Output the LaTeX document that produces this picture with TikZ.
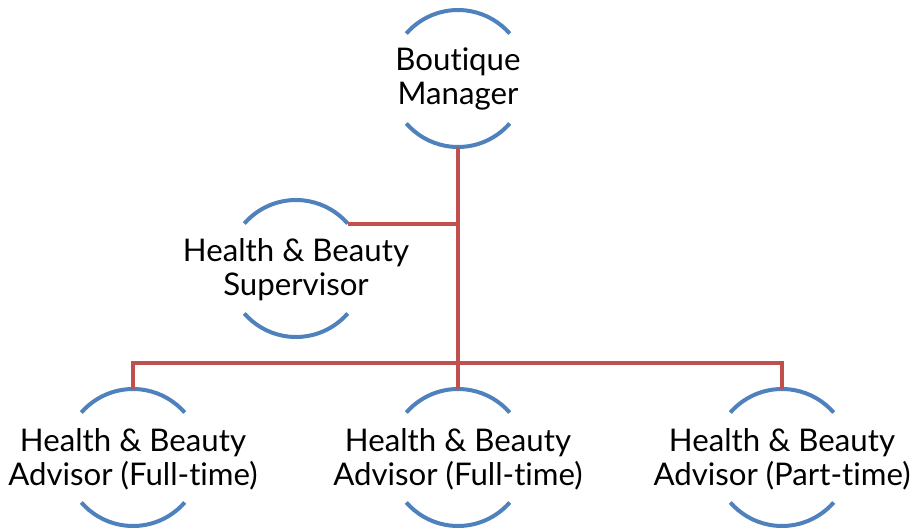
\documentclass[tikz,border=0pt]{standalone}
\usepackage{fontspec}
\setmainfont{Lato}[Ligatures={NoCommon,NoRare}]
\usetikzlibrary{calc}
\definecolor{ringblue}{HTML}{4F81BD}
\definecolor{linkred}{HTML}{C0504D}
\newlength\hbw
\newlength\ptw
\AtBeginDocument{%
\settowidth\hbw{\fontsize{10pt}{12pt}\selectfont Health \& Beauty}%
\settowidth\ptw{\fontsize{10pt}{12pt}\selectfont Advisor (Part-time)}%
\pgfmathsetmacro\lblsize{10*483/(\hbw+\ptw)}%
\xdef\lblsize{\lblsize}}
\newcommand\lblfont{\fontsize{\lblsize pt}{33.5pt}\selectfont}
\begin{document}
\begin{tikzpicture}[x=1pt,y=-1pt,
  ring/.style={ringblue,line width=4pt},
  link/.style={linkred,line width=4pt,line join=miter},
  lbl/.style={align=center,inner sep=0pt,font=\lblfont,anchor=base}]
\def\R{68.5}
\useasboundingbox (0,0) rectangle (914,530);
% circle centres
\coordinate (bm) at (458,78.5);
\coordinate (sup) at (296,268.5);
\coordinate (a1) at (133,457.5);
\coordinate (a2) at (458,457.5);
\coordinate (a3) at (782,457.5);
% labels (anchored at last baseline)
\node[lbl] (bm-l) at (458,104) {Boutique\\Manager};
\node[lbl] (sup-l) at (296,295) {Health \& Beauty\\Supervisor};
\node[lbl] (a1-l) at (133,485) {Health \& Beauty\\Advisor (Full-time)};
\node[lbl] (a2-l) at (458,485) {Health \& Beauty\\Advisor (Full-time)};
\node[lbl] (a3-l) at (782,485) {Health \& Beauty\\Advisor (Part-time)};
% rings
\foreach \n in {bm,sup,a1,a2,a3}{
  \draw[ring] ($(\n)+(221:\R)$) arc[start angle=221,end angle=319,radius=\R];
  \draw[ring] ($(\n)+(41:\R)$) arc[start angle=41,end angle=139,radius=\R];
  \coordinate (\n-t) at ($(\n)+(0,-\R)$);
  \coordinate (\n-b) at ($(\n)+(0,\R)$);
}
\coordinate (sup-e) at ($(sup)+(-41:\R)$);
\coordinate (bus) at (458,363);
% connectors
\draw[link] (bm-b) -- (a2-t);
\draw[link] (sup-e) -- (sup-e -| bm);
\draw[link] (a1-t) |- (bus) -| (a3-t);
\end{tikzpicture}
\end{document}
